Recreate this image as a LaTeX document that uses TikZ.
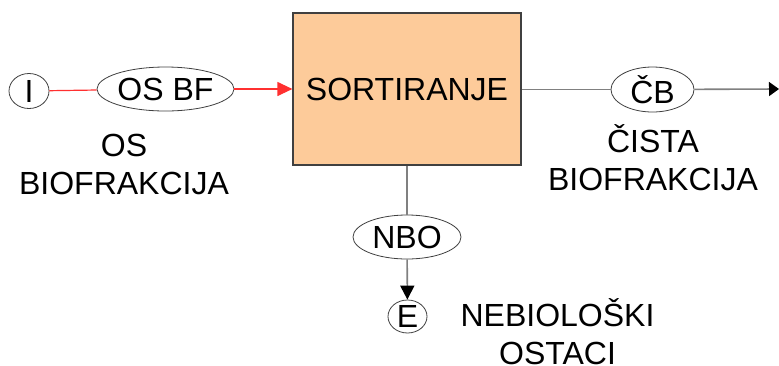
\documentclass[tikz,border=0pt]{standalone}
\usepackage{fontspec}
\setmainfont{Liberation Sans}
\usetikzlibrary{shapes.geometric,arrows.meta}
\definecolor{boxfill}{HTML}{FDCB9A}
\definecolor{edge}{HTML}{404040}
\definecolor{flow}{HTML}{808080}
\definecolor{redflow}{HTML}{FF3030}
\begin{document}
\begin{tikzpicture}[x=1pt,y=-1pt,
  every node/.style={font=\fontsize{32}{37.5}\selectfont, inner sep=0pt},
  oval/.style={ellipse, draw=edge, line width=0.8pt, fill=white},
  procbox/.style={rectangle, draw=edge, line width=1.2pt, fill=boxfill},
  label/.style={align=center, anchor=base},
  grayline/.style={draw=flow, line width=1.6pt},
  redline/.style={draw=redflow, line width=1.2pt}
]
\useasboundingbox (0,0) rectangle (779,365);
\node[procbox, minimum width=228pt, minimum height=152pt] (box) at (407,89) {SORTIRANJE};
\node[oval, minimum width=40pt, minimum height=35pt] (I) at (29,91) {I};
\node[oval, minimum width=137pt, minimum height=44pt] (osbf) at (165.5,89) {OS BF};
\node[oval, minimum width=83pt, minimum height=45pt] (cb) at (652.5,89.5) {ČB};
\node[oval, minimum width=108pt, minimum height=44pt] (nbo) at (407,237) {NBO};
\node[oval, minimum width=39pt, minimum height=33pt] (E) at (407.5,316.5) {E};
\coordinate (out) at (779,89);

\draw[redline] (I) -- (osbf);
\draw[redline, -{Triangle[length=15pt,width=14pt]}, redflow] (osbf) -- (osbf -| box.west);
\draw[grayline] (box.east |- cb) -- (cb);
\draw[grayline, -{Triangle[length=10pt,width=14pt,fill=black,color=black]}] (cb) -- (out);
\draw[grayline] (box.south) -- (nbo);
\draw[grayline, -{Triangle[length=14pt,width=14pt,fill=black,color=black]}] (nbo) -- (E);

\node[label] (lblos) at (124,194) {OS\\BIOFRAKCIJA};
\node[label] (lblcb) at (653,190) {ČISTA\\BIOFRAKCIJA};
\node[label] (lblnbo) at (557.5,364) {NEBIOLOŠKI\\OSTACI};
\end{tikzpicture}
\end{document}
